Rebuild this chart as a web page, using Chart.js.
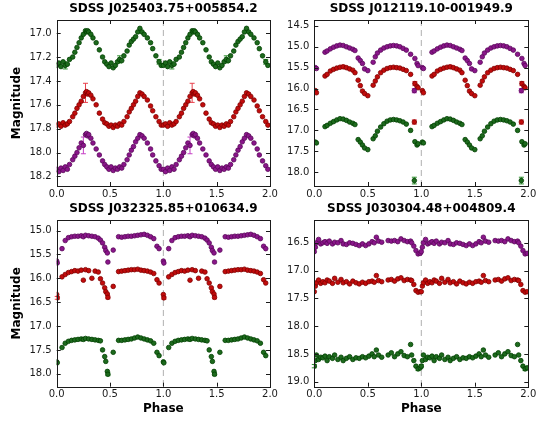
<!DOCTYPE html>
<html>
<head>
<meta charset="utf-8">
<script src="https://cdn.jsdelivr.net/npm/chart.js@4.4.1/dist/chart.umd.min.js"></script>
<style>
  body { margin: 0; background: #fff; }
  #wrap { position: relative; width: 546px; height: 421px; }
  canvas { position: absolute; }
</style>
</head>
<body>
<div id="wrap">
  <canvas id="c1" width="280" height="200" style="left:0;top:0"></canvas>
  <canvas id="c2" width="266" height="200" style="left:280px;top:0"></canvas>
  <canvas id="c3" width="280" height="221" style="left:0;top:200px"></canvas>
  <canvas id="c4" width="266" height="221" style="left:280px;top:200px"></canvas>
</div>
<script>
// Phase ticks shared by every panel
const phaseTicks = [0.0, 0.5, 1.0, 1.5, 2.0];

// SDSS J025403.75+005854.2
const title1 = 'SDSS J025403.75+005854.2';
const ph1 = [0.00, 0.02, 0.04, 0.06, 0.08, 0.10, 0.12, 0.15, 0.17, 0.19, 0.21, 0.23, 0.25, 0.27, 0.28, 0.29,
  0.30, 0.32, 0.34, 0.37, 0.40, 0.43, 0.45, 0.47, 0.49, 0.51, 0.53, 0.55, 0.57, 0.59, 0.61, 0.63, 0.66, 0.68,
  0.70, 0.72, 0.74, 0.76, 0.78, 0.80, 0.82, 0.85, 0.88, 0.90, 0.93, 0.96, 0.98];
const green1 = [17.27, 17.25, 17.28, 17.24, 17.27, 17.26, 17.22, 17.20, 17.16, 17.12, 17.08, 17.04, 17.01, 16.98, 16.99, 16.98,
  16.99, 17.01, 17.04, 17.08, 17.14, 17.20, 17.24, 17.26, 17.28, 17.25, 17.29, 17.27, 17.24, 17.22, 17.23, 17.19, 17.15, 17.10,
  17.07, 17.05, 17.03, 16.99, 16.96, 16.99, 17.01, 17.04, 17.08, 17.13, 17.19, 17.24, 17.27];
const red1 = [17.77, 17.76, 17.78, 17.75, 17.77, 17.76, 17.74, 17.70, 17.67, 17.63, 17.60, 17.57, 17.53, 17.50, 17.49, 17.51,
  17.50, 17.52, 17.55, 17.60, 17.67, 17.72, 17.75, 17.76, 17.78, 17.77, 17.79, 17.77, 17.78, 17.76, 17.77, 17.74, 17.70, 17.66,
  17.63, 17.60, 17.57, 17.53, 17.50, 17.51, 17.53, 17.56, 17.61, 17.65, 17.70, 17.74, 17.77];
const purple1 = [18.14, 18.16, 18.13, 18.15, 18.12, 18.14, 18.10, 18.06, 18.03, 18.00, 17.96, 17.92, 17.94, 17.85, 17.84, 17.86,
  17.85, 17.88, 17.92, 17.97, 18.02, 18.07, 18.10, 18.12, 18.14, 18.12, 18.15, 18.13, 18.14, 18.12, 18.13, 18.10, 18.06, 18.02,
  17.98, 17.95, 17.91, 17.88, 17.85, 17.86, 17.88, 17.92, 17.97, 18.02, 18.07, 18.11, 18.14];
const mag1Ticks = [17.0, 17.2, 17.4, 17.6, 17.8, 18.0, 18.2];
// error bars as [point index, sigma]
const green1Err = [[4, 0.03], [29, 0.03], [45, 0.02]];
const red1Err = [[13, 0.08]];
const purple1Err = [[12, 0.07]];

// SDSS J012119.10-001949.9
const title2 = 'SDSS J012119.10-001949.9';
const ph2 = [0.01, 0.02, 0.10, 0.12, 0.15, 0.18, 0.21, 0.24, 0.27, 0.30, 0.33, 0.36, 0.38, 0.41, 0.43, 0.45, 0.47, 0.50,
  0.55, 0.57, 0.59, 0.62, 0.65, 0.68, 0.71, 0.74, 0.77, 0.80, 0.83, 0.86, 0.90, 0.935, 0.94, 0.96, 0.97];
const purple2 = [15.50, 15.52, 15.13, 15.10, 15.05, 15.01, 14.98, 14.96, 14.97, 15.00, 15.03, 15.06, 15.09, 15.27, 15.33, 15.40, 15.53, 15.57,
  15.37, 15.24, 15.15, 15.08, 15.03, 15.00, 14.98, 14.97, 14.98, 15.00, 15.04, 15.08, 15.18, 16.05, 15.28, 15.40, 15.45];
const red2 = [16.05, 16.10, 15.70, 15.66, 15.58, 15.54, 15.51, 15.49, 15.48, 15.50, 15.53, 15.56, 15.62, 15.80, 15.93, 16.06, 16.12, 16.17,
  15.92, 15.82, 15.72, 15.62, 15.56, 15.52, 15.50, 15.49, 15.50, 15.51, 15.54, 15.57, 15.66, 16.80, 15.88, 15.95, 15.98];
const green2 = [17.28, 17.30, 16.91, 16.88, 16.83, 16.79, 16.75, 16.72, 16.73, 16.76, 16.80, 16.83, 16.86, 17.22, 17.28, 17.35, 17.42, 17.46,
  17.20, 17.13, 17.02, 16.92, 16.84, 16.78, 16.75, 16.74, 16.75, 16.77, 16.80, 16.85, 17.00, 18.20, 17.27, 17.35, 17.32];
const mag2Ticks = [14.5, 15.0, 15.5, 16.0, 16.5, 17.0, 17.5, 18.0];
const purple2Err = [[31, 0.05]];
const red2Err = [[8, 0.04], [31, 0.05], [32, 0.05]];
const green2Err = [[31, 0.08]];

// SDSS J032325.85+010634.9
const title3 = 'SDSS J032325.85+010634.9';
const ph3 = [0.00, 0.005, 0.05, 0.08, 0.11, 0.14, 0.17, 0.20, 0.23, 0.25, 0.27, 0.30, 0.33, 0.36, 0.39, 0.41, 0.43, 0.45,
  0.46, 0.475, 0.48, 0.53, 0.58, 0.61, 0.64, 0.67, 0.70, 0.73, 0.76, 0.79, 0.82, 0.85, 0.88, 0.91, 0.94, 0.96];
const purple3 = [15.64, 15.68, 15.38, 15.21, 15.15, 15.13, 15.12, 15.12, 15.11, 15.13, 15.10, 15.11, 15.12, 15.13, 15.16, 15.20, 15.26, 15.35,
  15.42, 15.47, 15.66, 15.41, 15.13, 15.14, 15.13, 15.12, 15.12, 15.11, 15.10, 15.09, 15.08, 15.10, 15.13, 15.17, 15.33, 15.38];
const red3 = [16.34, 16.41, 15.97, 15.92, 15.88, 15.86, 15.84, 15.85, 15.83, 16.04, 15.82, 15.84, 16.00, 15.85, 15.87, 16.01, 16.10, 16.20,
  16.28, 16.33, 16.40, 16.17, 15.86, 15.85, 15.84, 15.83, 15.82, 15.82, 15.81, 15.83, 15.84, 15.85, 15.87, 15.90, 16.03, 16.10];
const green3 = [17.75, 17.77, 17.45, 17.36, 17.32, 17.30, 17.29, 17.28, 17.27, 17.28, 17.26, 17.27, 17.28, 17.29, 17.30, 17.31, 17.50, 17.64,
  17.74, 17.95, 18.01, 17.55, 17.30, 17.30, 17.29, 17.28, 17.27, 17.25, 17.23, 17.25, 17.27, 17.29, 17.31, 17.36, 17.55, 17.62];
const mag3Ticks = [15.0, 15.5, 16.0, 16.5, 17.0, 17.5, 18.0];
const purple3Err = [];
const red3Err = [[1, 0.03], [20, 0.03]];
const green3Err = [[20, 0.03]];

// SDSS J030304.48+004809.4
const title4 = 'SDSS J030304.48+004809.4';
const ph4 = [0.00, 0.01, 0.02, 0.04, 0.06, 0.08, 0.10, 0.12, 0.14, 0.17, 0.19, 0.22, 0.25, 0.27, 0.30, 0.33, 0.36, 0.39, 0.42, 0.45,
  0.48, 0.51, 0.54, 0.56, 0.58, 0.60, 0.63, 0.69, 0.72, 0.75, 0.78, 0.81, 0.84, 0.87, 0.90, 0.91, 0.93, 0.95, 0.97, 0.99];
const purple4 = [16.66, 16.58, 16.50, 16.44, 16.52, 16.50, 16.48, 16.51, 16.47, 16.52, 16.49, 16.50, 16.46, 16.52, 16.53, 16.50, 16.51, 16.53, 16.55, 16.52,
  16.55, 16.52, 16.48, 16.50, 16.40, 16.47, 16.49, 16.46, 16.47, 16.46, 16.48, 16.43, 16.46, 16.48, 16.47, 16.50, 16.56, 16.64, 16.70, 16.69];
const red4 = [17.38, 17.28, 17.22, 17.17, 17.23, 17.20, 17.22, 17.17, 17.19, 17.23, 17.14, 17.21, 17.16, 17.22, 17.20, 17.24, 17.19, 17.22, 17.24, 17.21,
  17.23, 17.20, 17.19, 17.21, 17.09, 17.18, 17.20, 17.17, 17.16, 17.19, 17.15, 17.13, 17.18, 17.16, 17.17, 17.18, 17.25, 17.36, 17.39, 17.38];
const green4 = [18.72, 18.62, 18.52, 18.60, 18.56, 18.57, 18.54, 18.62, 18.55, 18.58, 18.52, 18.60, 18.56, 18.62, 18.58, 18.55, 18.60, 18.57, 18.58, 18.55,
  18.57, 18.54, 18.50, 18.55, 18.43, 18.52, 18.56, 18.52, 18.48, 18.55, 18.50, 18.46, 18.53, 18.55, 18.33, 18.52, 18.62, 18.72, 18.77, 18.75];
const mag4Ticks = [16.5, 17.0, 17.5, 18.0, 18.5, 19.0];
const purple4Err = [];
const red4Err = [];
const green4Err = [[0, 0.03], [38, 0.03]];

const COLORS = {
  purple: { fill: '#8a168a', edge: '#5a085a', err: '#c43cc4' },
  red: { fill: '#c20c0c', edge: '#800000', err: '#e8404c' },
  green: { fill: '#1d6a1d', edge: '#004000', err: '#2f8f2f' }
};
const FONT = 'DejaVu Sans';

// the light curve is folded and shown twice, phase 0-1 and 1-2
function twoCycles(ph, mag) {
  const pts = ph.map((p, i) => ({ x: p, y: mag[i] }));
  return pts.concat(ph.map((p, i) => ({ x: p + 1, y: mag[i] })));
}

function series(ph, mag, err, color) {
  const c = COLORS[color];
  const errs = [];
  err.forEach(([i, e]) => {
    errs.push({ x: ph[i], y: mag[i], e: e });
    errs.push({ x: ph[i] + 1, y: mag[i], e: e });
  });
  return {
    data: twoCycles(ph, mag),
    errors: errs,
    errColor: c.err,
    showLine: false,
    pointRadius: 2.3,
    pointHoverRadius: 2.3,
    pointBackgroundColor: c.fill,
    pointBorderColor: c.edge,
    pointBorderWidth: 0.8
  };
}

// dashed phase-1 line, error bars, box frame and inward ticks
const panelDecor = {
  id: 'panelDecor',
  beforeDatasetsDraw(chart) {
    const { ctx, chartArea: a, scales: { x, y } } = chart;
    ctx.save();
    const px = x.getPixelForValue(1);
    ctx.strokeStyle = '#b0b0b0';
    ctx.lineWidth = 1;
    ctx.setLineDash([6, 4]);
    ctx.beginPath();
    ctx.moveTo(px, a.top);
    ctx.lineTo(px, a.bottom);
    ctx.stroke();
    ctx.setLineDash([]);
    chart.data.datasets.forEach(ds => {
      ctx.strokeStyle = ds.errColor;
      ds.errors.forEach(p => {
        const cx = x.getPixelForValue(p.x);
        const y0 = y.getPixelForValue(p.y - p.e);
        const y1 = y.getPixelForValue(p.y + p.e);
        ctx.beginPath();
        ctx.moveTo(cx, y0); ctx.lineTo(cx, y1);
        ctx.moveTo(cx - 2.5, y0); ctx.lineTo(cx + 2.5, y0);
        ctx.moveTo(cx - 2.5, y1); ctx.lineTo(cx + 2.5, y1);
        ctx.stroke();
      });
    });
    ctx.restore();
  },
  afterDraw(chart) {
    const { ctx, chartArea: a, scales: { x, y } } = chart;
    ctx.save();
    ctx.strokeStyle = '#1a1a1a';
    ctx.lineWidth = 1;
    ctx.beginPath();
    x.ticks.forEach(t => {
      const px = Math.round(x.getPixelForValue(t.value)) + 0.5;
      ctx.moveTo(px, a.bottom); ctx.lineTo(px, a.bottom - 4);
      ctx.moveTo(px, a.top); ctx.lineTo(px, a.top + 4);
    });
    y.ticks.forEach(t => {
      const py = Math.round(y.getPixelForValue(t.value)) + 0.5;
      ctx.moveTo(a.left, py); ctx.lineTo(a.left + 4, py);
      ctx.moveTo(a.right, py); ctx.lineTo(a.right - 4, py);
    });
    ctx.stroke();
    ctx.strokeRect(Math.round(a.left) + 0.5, Math.round(a.top) + 0.5,
      Math.round(a.right - a.left), Math.round(a.bottom - a.top));
    ctx.restore();
  }
};

function makePanel(id, p) {
  new Chart(document.getElementById(id), {
    type: 'scatter',
    data: { datasets: p.datasets },
    plugins: [panelDecor],
    options: {
      responsive: false,
      animation: false,
      layout: { padding: { left: 0, right: p.padRight, top: 0, bottom: 0 } },
      plugins: {
        legend: { display: false },
        tooltip: { enabled: false },
        title: {
          display: true,
          text: p.title,
          fullSize: false,
          color: '#000',
          font: { family: FONT, size: 12, weight: 'bold' },
          padding: { top: 1.5, bottom: 4.1 }
        }
      },
      scales: {
        x: {
          type: 'linear',
          min: 0,
          max: 2,
          afterBuildTicks: s => { s.ticks = phaseTicks.map(v => ({ value: v })); },
          afterFit: s => { s.height = p.xHeight; },
          grid: { display: false, drawTicks: false },
          border: { display: false },
          ticks: {
            color: '#1a1a1a',
            font: { family: FONT, size: 10 },
            padding: 2,
            maxRotation: 0,
            autoSkip: false,
            callback: v => Number(v).toFixed(1)
          },
          title: {
            display: p.xTitle,
            text: 'Phase',
            color: '#000',
            font: { family: FONT, size: 12, weight: 'bold' },
            padding: { top: 0, bottom: 4.8 }
          }
        },
        y: {
          type: 'linear',
          reverse: true,
          min: p.yMin,
          max: p.yMax,
          afterBuildTicks: s => { s.ticks = p.yTicks.map(v => ({ value: v })); },
          afterFit: s => { s.width = p.yWidth; },
          grid: { display: false, drawTicks: false },
          border: { display: false },
          ticks: {
            color: '#1a1a1a',
            font: { family: FONT, size: 10 },
            padding: 5,
            autoSkip: false,
            callback: v => Number(v).toFixed(1)
          },
          title: {
            display: p.yTitle,
            text: 'Magnitude',
            color: '#000',
            font: { family: FONT, size: 12, weight: 'bold' },
            padding: { top: 10, bottom: 0 }
          }
        }
      }
    }
  });
}

makePanel('c1', {
  title: title1, yMin: 16.89, yMax: 18.28, yTicks: mag1Ticks,
  yTitle: true, xTitle: false, yWidth: 56.7, xHeight: 14, padRight: 10,
  datasets: [series(ph1, green1, green1Err, 'green'), series(ph1, red1, red1Err, 'red'), series(ph1, purple1, purple1Err, 'purple')]
});
makePanel('c2', {
  title: title2, yMin: 14.36, yMax: 18.33, yTicks: mag2Ticks,
  yTitle: false, xTitle: false, yWidth: 34.3, xHeight: 14, padRight: 17.7,
  datasets: [series(ph2, purple2, purple2Err, 'purple'), series(ph2, red2, red2Err, 'red'), series(ph2, green2, green2Err, 'green')]
});
makePanel('c3', {
  title: title3, yMin: 14.78, yMax: 18.27, yTicks: mag3Ticks,
  yTitle: true, xTitle: true, yWidth: 56.7, xHeight: 34.3, padRight: 10,
  datasets: [series(ph3, purple3, purple3Err, 'purple'), series(ph3, red3, red3Err, 'red'), series(ph3, green3, green3Err, 'green')]
});
makePanel('c4', {
  title: title4, yMin: 16.09, yMax: 19.09, yTicks: mag4Ticks,
  yTitle: false, xTitle: true, yWidth: 34.3, xHeight: 34.3, padRight: 17.7,
  datasets: [series(ph4, purple4, purple4Err, 'purple'), series(ph4, red4, red4Err, 'red'), series(ph4, green4, green4Err, 'green')]
});
</script>
</body>
</html>
